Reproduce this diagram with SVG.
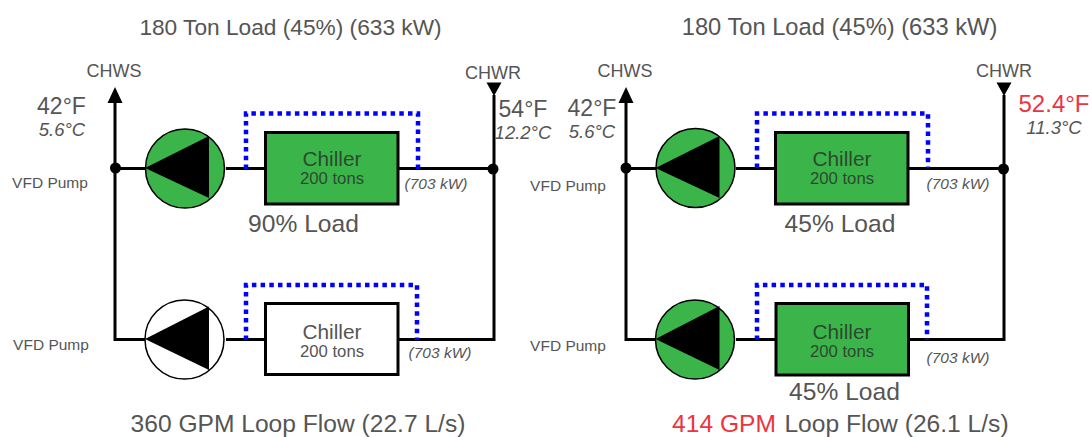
<svg xmlns="http://www.w3.org/2000/svg" width="1092" height="437" viewBox="0 0 1092 437">
<style>
text{font-family:"Liberation Sans",Arial,sans-serif;fill:#555;text-anchor:middle}
.t{font-size:22.7px}.tr{font-size:23.700px}.f{font-size:24.6px}.m{font-size:23px}.n{font-size:24px}.l{font-size:15.5px}.lab{font-size:18px}
.i{font-size:18.5px;font-style:italic}.k{font-size:15.5px;font-style:italic}
.c{font-size:20.8px}.s{font-size:16.7px}.r{fill:#ee3340}
text.dk{fill:#2c4a30}
.p{fill:none;stroke:#000;stroke-width:3}
.d{fill:none;stroke:#00f;stroke-width:4.500;stroke-dasharray:4.500 4.200}
.g{fill:#3bb54a}.w{fill:#fff}
.b{stroke:#000;stroke-width:3}.o{stroke:#000;stroke-width:1.5}
</style>
<rect width="1092" height="437" fill="#fff"/>
<g id="connectors">
<path class="p" d="M115 100V339.5H146M226 339.5H266M398 339.5H494V95M115 168.5H146M226 168.5H266M398 168.5H494"/>
<path class="p" d="M626 100V339.5H656M736 339.5H776M908 339.5H1004V95M626 168.5H656M736 168.5H776M908 168.5H1004"/>
<path class="d" d="M246 169V113.500H418V169M246 340V285H417V340M757 168V113.500H928V168M757 340V285H927V340"/>
<path d="M115 87l7.500 16h-15zM494 96l-7.500-13.500h15zM626 87l7.500 16h-15zM1004 96l-7.500-13.500h15z"/>
<circle cx="115.500" cy="168" r="5.500"/><circle cx="493" cy="169" r="5.500"/><circle cx="626" cy="168" r="5.500"/><circle cx="1003.500" cy="169" r="5.500"/>
</g>
<g id="pump1"><circle class="g o" cx="185" cy="168.500" r="39.500"/><path d="M145 168L209 136V198Z"/></g>
<g id="pump2"><circle class="w o" cx="184.500" cy="339.500" r="39.500"/><path d="M145 339L209 306.500V370Z"/></g>
<g id="pump3"><circle class="g o" cx="695.500" cy="168" r="39.500"/><path d="M655.500 168L719.500 136V198Z"/></g>
<g id="pump4"><circle class="g o" cx="695" cy="339.500" r="39.500"/><path d="M655.500 339L719.500 306V370Z"/></g>
<g id="chiller1"><rect class="g b" x="265.500" y="132.500" width="132.500" height="71.500"/><text class="c dk" x="332" y="166">Chiller</text><text class="s dk" x="332" y="184">200 tons</text></g>
<g id="chiller2"><rect class="w b" x="265.500" y="303.500" width="132.500" height="71"/><text class="c" x="332" y="339">Chiller</text><text class="s" x="332" y="357">200 tons</text></g>
<g id="chiller3"><rect class="g b" x="775.500" y="132.500" width="132.500" height="71.500"/><text class="c dk" x="842" y="166">Chiller</text><text class="s dk" x="842" y="184">200 tons</text></g>
<g id="chiller4"><rect class="g b" x="776" y="303.500" width="132.500" height="71.500"/><text class="c dk" x="842" y="339">Chiller</text><text class="s dk" x="842" y="357">200 tons</text></g>
<g id="labels">
<text class="t" x="290.500" y="35">180 Ton Load (45%) (633 kW)</text>
<text class="tr" x="839.500" y="35">180 Ton Load (45%) (633 kW)</text>
<text class="lab" x="114" y="76.500">CHWS</text><text class="lab" x="493" y="79">CHWR</text>
<text class="lab" x="625" y="76.500">CHWS</text><text class="lab" x="1004" y="77">CHWR</text>
<text class="m" x="61.500" y="114">42°F</text><text class="i" x="62" y="136">5.6°C</text>
<text class="m" x="523" y="116.500">54°F</text><text class="i" x="523" y="138.500">12.2°C</text>
<text class="m" x="592" y="116">42°F</text><text class="i" x="592" y="138">5.6°C</text>
<text class="n r" x="1054" y="112">52.4°F</text><text class="i" x="1054" y="134">11.3°C</text>
<text class="l" x="50" y="188">VFD Pump</text><text class="l" x="51" y="350">VFD Pump</text>
<text class="l" x="568" y="191">VFD Pump</text><text class="l" x="568" y="351">VFD Pump</text>
<text class="k" x="436" y="189">(703 kW)</text><text class="k" x="440" y="358">(703 kW)</text>
<text class="k" x="958" y="189">(703 kW)</text><text class="k" x="958" y="363">(703 kW)</text>
<text class="f" x="303.500" y="232">90% Load</text><text class="f" x="840" y="232">45% Load</text><text class="f" x="844.500" y="400">45% Load</text>
<text class="f" x="298" y="432">360 GPM Loop Flow (22.7 L/s)</text>
<text class="f r" x="724" y="432">414 GPM</text><text class="f" x="896.500" y="432">Loop Flow (26.1 L/s)</text>
</g>
</svg>
